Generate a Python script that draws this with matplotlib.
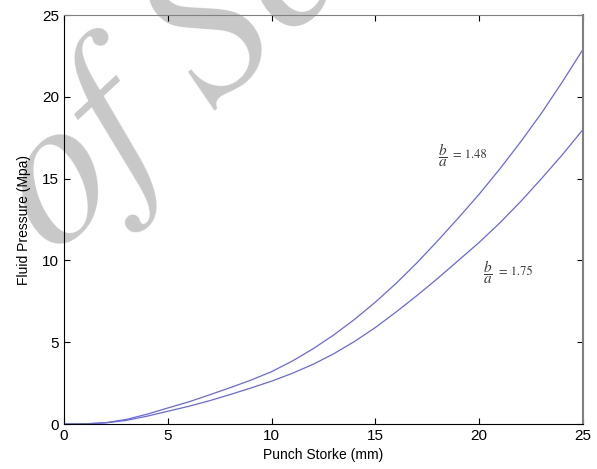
import matplotlib
matplotlib.use('Agg')
import matplotlib.pyplot as plt

# punch stroke (mm)
stroke = [0, 1, 2, 3, 4, 5, 6, 7, 8, 9, 10, 11, 12, 13, 14, 15, 16, 17, 18, 19, 20, 21, 22, 23, 24, 25]
# fluid pressure (MPa), b/a = 1.48
p148 = [0, 0.01, 0.08, 0.28, 0.6, 0.98, 1.35, 1.78, 2.22, 2.68, 3.2, 3.85, 4.6, 5.45, 6.4,
        7.45, 8.6, 9.85, 11.2, 12.6, 14.05, 15.6, 17.25, 19.0, 20.9, 22.9]
# fluid pressure (MPa), b/a = 1.75
p175 = [0, 0.01, 0.07, 0.22, 0.48, 0.78, 1.08, 1.42, 1.8, 2.2, 2.62, 3.1, 3.65, 4.3, 5.05,
        5.9, 6.85, 7.85, 8.9, 10.0, 11.1, 12.3, 13.6, 15.0, 16.45, 18.0]

ticks = [0, 5, 10, 15, 20, 25]
ratios = ['1.48', '1.75']

plt.rcParams['font.family'] = ['Liberation Sans', 'DejaVu Sans']
plt.rcParams['mathtext.fontset'] = 'stix'

fig = plt.figure(figsize=(5.97, 4.69), dpi=100)
ax = fig.add_axes([0.1072, 0.0959, 0.8693, 0.8721])
ax.set_facecolor('none')

# watermark behind the axes
fig.text(0.09, 0.452, 'of Sc', fontsize=150, family='STIXGeneral', style='italic',
         color='#c8c8c8', rotation=43, ha='left', va='baseline',
         rotation_mode='anchor', zorder=-1)

ax.plot(stroke, p148, color='#6666f2', lw=0.9)
ax.plot(stroke, p175, color='#6666f2', lw=0.9)

# curve labels b/a = ...
for (lx, ly), r in zip([(18.0, 16.45), (20.2, 9.3)], ratios):
    ax.text(lx, ly, r'$\dfrac{b}{a}$', fontsize=11, color='#3a3a3a', va='center')
    ax.text(lx + 0.75, ly, '= ' + r, fontsize=9, family='STIXGeneral',
            color='#3a3a3a', va='center')

ax.set_xlim(0, 25)
ax.set_ylim(0, 25)
ax.set_xticks(ticks)
ax.set_yticks(ticks)
ax.tick_params(direction='in', length=4, labelsize=11, top=True, right=True, width=0.8)
ax.set_xlabel('Punch Storke (mm)', fontsize=10, labelpad=4)
ax.set_ylabel('Fluid Pressure (Mpa)', fontsize=10, labelpad=8)
for s in ['top', 'right']:
    ax.spines[s].set_color('#808080')
ax.spines['right'].set_linewidth(1.5)

fig.savefig('out.png', dpi=100)
